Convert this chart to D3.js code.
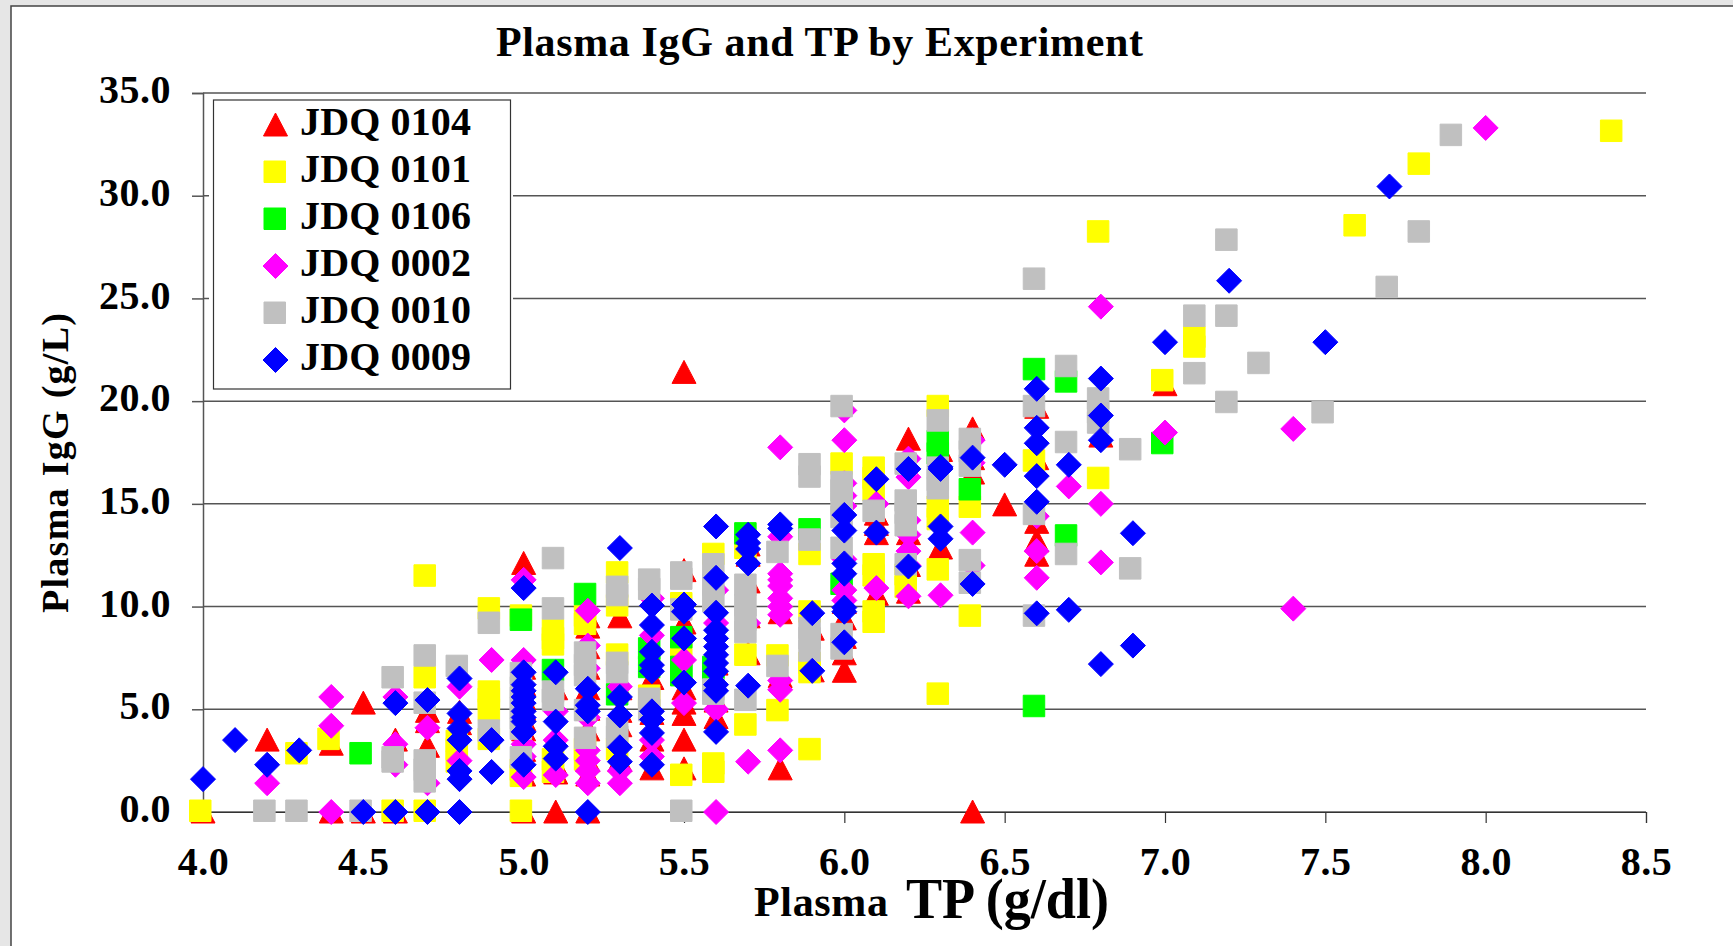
<!DOCTYPE html>
<html>
<head>
<meta charset="utf-8">
<script src="https://cdnjs.cloudflare.com/ajax/libs/d3/7.8.5/d3.min.js"></script>
<style>
  html, body { margin: 0; padding: 0; background: #e6e6e6; overflow: hidden; }
  svg { display: block; }
  text { font-family: "Liberation Serif", serif; font-weight: bold; fill: #000; }
  .tick text { font-size: 40px; font-family: "Liberation Serif", serif; letter-spacing: 0.5px; }
</style>
</head>
<body>
<div class="chart"></div>
<script>
// Values, [TP, IgG]
var jdq0104 = [[4.0,0],[4.2,3.5],[4.4,3.3],[4.4,0],[4.5,5.3],[4.5,0],[4.6,3.5],[4.6,0],[4.7,4.9],[4.7,4.4],[4.7,3.2],[4.8,4.85],[4.8,4.3],
  [5.0,12.1],[5.0,7.0],[5.0,6.2],[5.0,5.5],[5.0,5.0],[5.0,4.5],[5.0,4.0],[5.0,3.0],[5.0,1.8],[5.0,0],[5.1,6.0],[5.1,2.3],[5.1,1.9],[5.1,0],
  [5.2,9.5],[5.2,9.0],[5.2,8.0],[5.2,7.0],[5.2,6.0],[5.2,5.0],[5.2,4.0],[5.2,2.5],[5.2,1.8],[5.2,0],[5.3,9.5],[5.3,6.0],[5.3,4.9],[5.3,4.2],[5.3,2.5],
  [5.4,6.5],[5.4,4.8],[5.4,3.5],[5.4,2.1],[5.5,11.75],[5.5,21.4],[5.5,9.2],[5.5,6.0],[5.5,5.3],[5.5,4.75],[5.5,3.5],[5.5,2.1],
  [5.6,7.2],[5.6,5.4],[5.6,4.6],[5.7,13.0],[5.7,12.5],[5.7,11.2],[5.7,9.5],[5.7,7.7],[5.8,9.7],[5.8,6.6],[5.8,2.1],[5.9,8.9],[5.9,6.87],
  [6.0,10.2],[6.0,9.4],[6.0,8.5],[6.0,7.7],[6.0,6.85],[6.1,14.5],[6.1,14.0],[6.1,13.55],[6.1,10.6],[6.2,18.15],[6.2,13.55],[6.2,12.0],[6.2,10.7],
  [6.3,17.6],[6.3,12.85],[6.4,18.65],[6.4,17.2],[6.4,16.5],[6.4,0],[6.5,14.95],[6.6,19.7],[6.6,17.2],[6.6,14.1],[6.6,13.2],[6.6,12.5],[6.8,18.3],[7.0,20.8]];

var jdq0101 = [[4.0,0],[4.3,2.8],[4.4,3.5],[4.6,0],[4.7,11.45],[4.7,6.5],[4.7,0],[4.8,3.4],[4.8,3.0],[4.8,2.4],
  [4.9,9.85],[4.9,5.8],[4.9,5.45],[4.9,4.93],[4.9,3.5],[5.0,9.5],[5.0,2.0],[5.0,1.7],[5.0,0],[5.1,8.8],[5.1,8.4],[5.1,8.1],[5.1,2.5],[5.1,1.9],
  [5.2,9.5],[5.2,9.1],[5.2,3.0],[5.2,2.5],[5.3,11.6],[5.3,10.0],[5.3,7.6],[5.3,3.0],[5.4,5.6],[5.5,10.1],[5.5,7.6],[5.5,1.75],
  [5.6,12.5],[5.6,2.3],[5.6,1.9],[5.7,12.8],[5.7,7.6],[5.7,4.2],[5.8,7.56],[5.8,4.9],[5.9,12.5],[5.9,9.7],[5.9,7.2],[5.9,6.75],[5.9,3.0],
  [6.0,16.9],[6.1,16.7],[6.1,16.2],[6.1,15.6],[6.1,12.0],[6.1,11.46],[6.1,9.7],[6.1,9.2],[6.2,11.5],[6.2,10.9],
  [6.3,19.7],[6.3,14.8],[6.3,14.2],[6.3,11.75],[6.3,5.7],[6.4,14.8],[6.4,9.5],[6.6,17.05],[6.8,28.2],[6.8,16.2],[7.0,20.96],[7.1,23.07],[7.1,22.6],
  [7.6,28.5],[7.8,31.5],[8.4,33.1]];

var jdq0106 = [[4.5,2.8],[5.0,9.3],[5.1,6.85],[5.2,10.55],[5.3,5.67],[5.4,7.9],[5.4,7.0],[5.5,8.45],[5.5,7.0],[5.5,6.6],[5.6,7.0],[5.6,6.5],[5.7,13.5],
  [5.9,13.7],[6.0,11.05],[6.3,18.0],[6.3,17.4],[6.4,15.65],[6.6,21.5],[6.6,5.1],[6.7,20.9],[6.7,13.4],[7.0,17.9]];

var jdq0002 = [[4.2,1.4],[4.4,5.6],[4.4,4.2],[4.4,0],[4.6,5.6],[4.6,3.3],[4.6,2.3],[4.7,4.1],[4.7,1.4],[4.8,6.1],[4.8,2.5],[4.9,7.4],
  [5.0,11.3],[5.0,7.4],[5.0,3.3],[5.0,2.7],[5.0,1.7],[5.1,4.9],[5.1,3.5],[5.1,1.8],[5.2,9.8],[5.2,8.1],[5.2,7.0],[5.2,4.6],[5.2,3.0],[5.2,2.5],[5.2,2.0],[5.2,1.4],
  [5.3,6.1],[5.3,2.0],[5.3,1.4],[5.4,10.4],[5.4,8.6],[5.4,3.5],[5.4,2.7],[5.5,7.4],[5.5,5.3],[5.6,10.8],[5.6,9.2],[5.6,5.0],[5.6,0],[5.7,9.2],[5.7,2.45],
  [5.8,17.75],[5.8,13.4],[5.8,11.6],[5.8,11.3],[5.8,11.0],[5.8,10.4],[5.8,10.0],[5.8,9.6],[5.8,6.4],[5.8,5.95],[5.8,3.0],
  [6.0,19.55],[6.0,18.1],[6.0,16.0],[6.0,15.4],[6.0,14.9],[6.0,12.3],[6.0,10.8],[6.0,10.3],[6.1,15.0],[6.1,10.9],
  [6.2,17.2],[6.2,16.3],[6.2,14.2],[6.2,13.5],[6.2,12.7],[6.2,12.0],[6.2,10.5],[6.3,10.55],[6.4,18.1],[6.4,17.0],[6.4,13.6],[6.4,12.0],
  [6.6,14.4],[6.6,12.7],[6.6,11.4],[6.7,15.85],[6.8,24.6],[6.8,15.0],[6.8,12.15],[7.0,18.47],[7.4,18.65],[7.4,9.9],[8.0,33.3]];

var jdq0010 = [[4.2,0],[4.3,0],[4.5,0],[4.6,6.5],[4.6,2.6],[4.6,2.4],[4.7,7.56],[4.7,5.26],[4.7,2.45],[4.7,2.0],[4.7,1.43],[4.8,7.05],[4.9,9.15],[4.9,3.9],
  [5.0,6.7],[5.0,6.0],[5.0,5.5],[5.0,5.0],[5.0,4.5],[5.0,4.0],[5.0,2.6],[5.1,12.3],[5.1,9.85],[5.1,5.8],[5.1,5.4],[5.2,7.7],[5.2,7.1],[5.2,6.6],[5.2,4.9],[5.2,3.55],
  [5.3,10.9],[5.3,10.5],[5.3,7.2],[5.3,6.75],[5.3,4.0],[5.3,3.6],[5.4,11.25],[5.4,10.8],[5.4,5.45],[5.4,4.9],[5.5,11.6],[5.5,11.3],[5.5,9.8],[5.5,0],
  [5.6,12.0],[5.6,11.0],[5.6,10.2],[5.6,5.9],[5.6,5.7],[5.7,11.0],[5.7,10.0],[5.7,9.3],[5.7,8.7],[5.7,5.4],[5.8,12.6],[5.8,7.05],
  [5.9,16.87],[5.9,16.27],[5.9,13.2],[5.9,8.9],[5.9,8.4],[5.9,7.8],[6.0,19.7],[6.0,16.0],[6.0,15.6],[6.0,14.95],[6.0,14.3],[6.0,12.8],[6.0,8.6],[6.0,7.9],[6.1,14.6],
  [6.2,16.9],[6.2,15.1],[6.2,14.5],[6.2,13.9],[6.2,12.0],[6.3,19.0],[6.3,16.7],[6.3,16.1],[6.3,15.7],[6.4,18.1],[6.4,17.5],[6.4,16.8],[6.4,12.2],[6.4,11.1],
  [6.6,25.9],[6.6,19.7],[6.6,14.45],[6.6,9.5],[6.7,21.65],[6.7,17.95],[6.7,12.5],[6.8,20.07],[6.8,19.4],[6.8,18.9],[6.9,17.6],[6.9,11.8],[7.1,24.1],[7.1,21.3],
  [7.2,27.8],[7.2,24.1],[7.2,19.9],[7.3,21.8],[7.5,19.4],[7.7,25.5],[7.8,28.2],[7.9,32.9]];

var jdq0009 = [[4.0,1.6],[4.1,3.5],[4.2,2.3],[4.3,3.0],[4.5,0],[4.6,5.3],[4.6,0],[4.7,5.45],[4.7,0],[4.8,6.5],[4.8,4.8],[4.8,4.07],[4.8,3.5],[4.8,2.0],[4.8,1.6],[4.8,0],
  [4.9,3.5],[4.9,1.95],[5.0,10.9],[5.0,6.8],[5.0,6.2],[5.0,5.9],[5.0,5.6],[5.0,5.3],[5.0,4.9],[5.0,4.6],[5.0,4.4],[5.0,3.9],[5.0,2.3],[5.1,6.8],[5.1,4.4],[5.1,3.2],[5.1,2.6],
  [5.2,6.0],[5.2,5.2],[5.2,4.9],[5.2,0],[5.3,12.85],[5.3,5.6],[5.3,4.7],[5.3,3.15],[5.3,2.45],[5.4,10.05],[5.4,9.1],[5.4,7.8],[5.4,7.15],[5.4,6.85],[5.4,4.9],[5.4,4.5],[5.4,3.85],[5.4,2.3],
  [5.5,10.1],[5.5,9.75],[5.5,8.45],[5.5,6.3],[5.6,13.9],[5.6,11.4],[5.6,9.7],[5.6,8.85],[5.6,8.45],[5.6,8.05],[5.6,7.65],[5.6,7.25],[5.6,6.85],[5.6,6.2],[5.6,5.9],[5.6,3.9],
  [5.7,13.5],[5.7,13.1],[5.7,12.8],[5.7,12.1],[5.7,6.15],[5.8,14.0],[5.8,13.8],[5.9,9.68],[5.9,6.87],[6.0,14.46],[6.0,13.7],[6.0,12.1],[6.0,11.6],[6.0,9.95],[6.0,9.75],[6.0,8.26],
  [6.1,16.2],[6.1,13.6],[6.2,16.7],[6.2,11.95],[6.3,16.8],[6.3,16.7],[6.3,13.9],[6.3,13.3],[6.4,17.25],[6.4,11.1],[6.5,16.9],[6.6,20.6],[6.6,18.7],[6.6,17.95],[6.6,16.35],[6.6,15.1],[6.6,9.67],
  [6.7,16.9],[6.7,9.84],[6.8,21.1],[6.8,19.3],[6.8,18.1],[6.8,7.2],[6.9,13.57],[6.9,8.1],[7.0,22.87],[7.2,25.86],[7.5,22.87],[7.7,30.45]];

var seriesNames = ["JDQ 0104", "JDQ 0101", "JDQ 0106", "JDQ 0002", "JDQ 0010", "JDQ 0009"];
var seriesValues = [jdq0104, jdq0101, jdq0106, jdq0002, jdq0010, jdq0009];
var seriesColors = ["#ff0000", "#ffff00", "#00ff00", "#ff00ff", "#c0c0c0", "#0000ff"];
var seriesShapes = ["triangle", "square", "square", "diamond", "square", "diamond"];

var xTicks = [4.0, 4.5, 5.0, 5.5, 6.0, 6.5, 7.0, 7.5, 8.0, 8.5];
var yTicks = [0, 5, 10, 15, 20, 25, 30, 35];

var svgWidth = 1733;
var svgHeight = 946;

var x = d3.scaleLinear().domain([4, 8.5]).range([203, 1646]);
var y = d3.scaleLinear().domain([0, 35]).range([812, 93]);

// marker outlines around the point
function markerPath(shape) {
  var p = d3.path();
  if (shape === "triangle") {
    p.moveTo(0, -12); p.lineTo(12, 11); p.lineTo(-12, 11);
  } else if (shape === "diamond") {
    p.moveTo(0, -12.5); p.lineTo(12.5, 0); p.lineTo(0, 12.5); p.lineTo(-12.5, 0);
  } else {
    // Excel squares sit a little up and left of the point
    p.rect(-13.5, -12, 21.5, 21.5);
  }
  p.closePath();
  return p.toString();
}

var svg = d3.select(".chart").append("svg")
  .attr("width", svgWidth)
  .attr("height", svgHeight);

// white sheet with the dark frame
svg.append("rect")
  .attr("x", 11).attr("y", 6)
  .attr("width", svgWidth).attr("height", svgHeight)
  .attr("fill", "#fff")
  .attr("stroke", "#444")
  .attr("stroke-width", 1.5);

// gridlines
svg.append("g").selectAll("line")
  .data(yTicks)
  .enter()
  .append("line")
  .attr("x1", x(4)).attr("x2", x(8.5))
  .attr("y1", d => y(d)).attr("y2", d => y(d))
  .attr("stroke", "#555")
  .attr("stroke-width", 1.5);

// axes
var leftAxis = d3.axisLeft(y).tickValues(yTicks).tickFormat(d3.format(".1f")).tickSize(11).tickPadding(21);
var bottomAxis = d3.axisBottom(x).tickValues(xTicks).tickFormat(d3.format(".1f")).tickSize(11).tickPadding(23);

var yAxisGroup = svg.append("g")
  .attr("transform", `translate(${x(4)}, 0)`)
  .call(leftAxis);
var xAxisGroup = svg.append("g")
  .attr("transform", `translate(0, ${y(0)})`)
  .call(bottomAxis);

yAxisGroup.selectAll("line, path").attr("stroke", "#555").attr("stroke-width", 1.5);
xAxisGroup.selectAll("line, path").attr("stroke", "#333").attr("stroke-width", 1.2);
yAxisGroup.selectAll("text").attr("dy", "0.24em");
xAxisGroup.selectAll("text").attr("dy", "0.72em");

// points, series by series so that the later ones cover the earlier
seriesValues.forEach(function(values, i) {
  svg.append("g")
    .selectAll("path")
    .data(values)
    .enter()
    .append("path")
    .attr("d", markerPath(seriesShapes[i]))
    .attr("transform", d => `translate(${x(d[0])}, ${y(d[1])})`)
    .attr("fill", seriesColors[i])
    .attr("stroke", seriesColors[i])
    .attr("stroke-width", 1)
    .attr("stroke-linejoin", "round");
});

// legend
var legend = svg.append("g");
legend.append("rect")
  .attr("x", 209).attr("y", 97)
  .attr("width", 304).attr("height", 296)
  .attr("fill", "#fff");
legend.append("rect")
  .attr("x", 213.5).attr("y", 100)
  .attr("width", 297).attr("height", 289)
  .attr("fill", "#fff")
  .attr("stroke", "#333")
  .attr("stroke-width", 1.2);

var legendRow = d3.scalePoint().domain(seriesNames).range([125, 360]);

seriesNames.forEach(function(name, i) {
  legend.append("path")
    .attr("d", markerPath(seriesShapes[i]))
    .attr("transform", `translate(${seriesShapes[i] === "square" ? 277.5 : 275.5}, ${legendRow(name) + (seriesShapes[i] === "square" ? 1 : 0)})`)
    .attr("fill", seriesColors[i])
    .attr("stroke", seriesColors[i])
    .attr("stroke-width", 1)
    .attr("stroke-linejoin", "round");
  legend.append("text")
    .attr("x", 300)
    .attr("y", legendRow(name) + 10)
    .attr("font-size", 40)
    .attr("textLength", 171)
    .attr("lengthAdjust", "spacing")
    .text(name);
});

// titles
svg.append("text")
  .attr("x", 496).attr("y", 56)
  .attr("font-size", 42)
  .attr("textLength", 647)
  .text("Plasma IgG and TP by Experiment");

svg.append("text")
  .attr("transform", "translate(68, 613) rotate(-90)")
  .attr("font-size", 38)
  .attr("textLength", 300)
  .text("Plasma IgG  (g/L)");

svg.append("text")
  .attr("x", 754).attr("y", 916)
  .attr("font-size", 42)
  .attr("textLength", 134)
  .text("Plasma");

svg.append("text")
  .attr("x", 906).attr("y", 918)
  .attr("font-size", 58)
  .attr("textLength", 203)
  .attr("lengthAdjust", "spacingAndGlyphs")
  .text("TP (g/dl)");
</script>
</body>
</html>
